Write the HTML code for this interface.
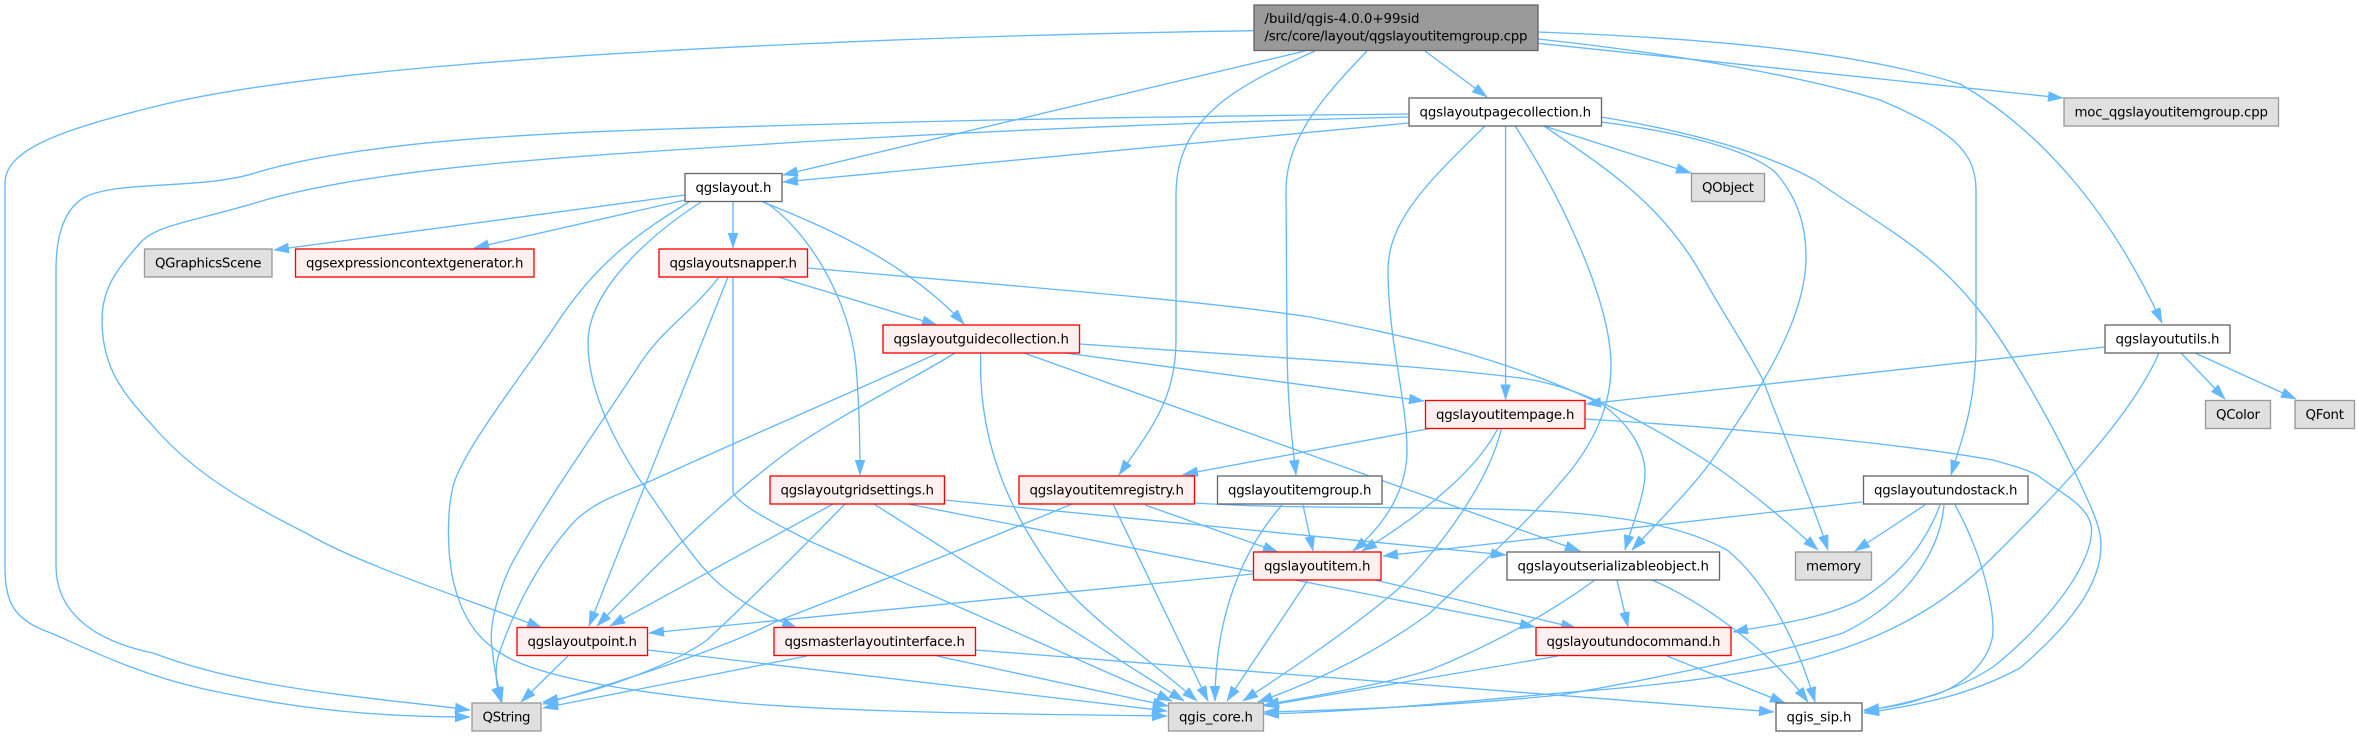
<!DOCTYPE html>
<html><head><meta charset="utf-8"><style>
html,body{margin:0;padding:0;background:#fff}
svg{display:block}
text{font-family:"DejaVu Sans",sans-serif;font-size:13.33px;fill:#000;text-anchor:middle}
.e path{fill:none;stroke:#63b8ff;stroke-width:1.33;marker-end:url(#a)}
.n{fill:#fff;stroke:#666;stroke-width:1.33}
.r{fill:#fff0f0;stroke:#f00;stroke-width:1.33}
.g{fill:#e0e0e0;stroke:#999;stroke-width:1.33}
.t{fill:#999;stroke:#666;stroke-width:1.33}
</style></head><body>
<svg width="2359" height="736" viewBox="0 0 2359 736" xmlns="http://www.w3.org/2000/svg">
<defs><marker id="a" markerUnits="userSpaceOnUse" markerWidth="17" markerHeight="12" refX="15" refY="5" orient="auto"><path d="M0,0L15,5L0,10Z" fill="#63b8ff" stroke="#63b8ff" stroke-width=".5"/></marker></defs>
<g class="e">
<path d="M1254 30.7C1100 33 950 37 800 44C600 53 300 70 153 107C60 130 5 150 5 183L5 566C5 600 12 620 51 633C90 650 140 675 204 689C300 710 380 717 470 717"/>
<path d="M1305 51L783 175"/>
<path d="M1315 51C1240 85 1176 115 1176 195L1176 340C1176 400 1150 430 1119 475"/>
<path d="M1367 51C1320 100 1286 140 1286 190L1287 340C1287 400 1292 440 1296 475"/>
<path d="M1425 51L1487 97"/>
<path d="M1538 39C1640 50 1780 70 1880 100C1950 130 1976 150 1976 190L1976 340C1976 400 1965 430 1951 475"/>
<path d="M1538 43.3L2063 98"/>
<path d="M1538 32C1700 38 1850 50 1960 84C2040 130 2110 210 2162 323"/>
<path d="M1409 114C1200 116 1000 119 800 125C600 131 380 135 255 173C200 190 120 180 85 197C62 210 56 240 56 270L56 566C56 610 90 640 153 653C250 690 370 697 470 710"/>
<path d="M1409 117C1200 122 1000 130 800 142C600 155 380 165 255 203C190 222 160 225 143 240C115 270 102 290 102 320C102 370 125 395 153 426C195 475 250 505 306 533C360 565 470 600 542 628"/>
<path d="M1409 123L783 182"/>
<path d="M1485 126C1430 180 1388 220 1388 270C1388 340 1407 400 1407 450C1407 490 1385 525 1353 551"/>
<path d="M1505.6 126L1505.6 399.5"/>
<path d="M1515 126C1560 195 1611 300 1611 366C1611 410 1590 450 1560 483C1530 520 1480 565 1430 613C1380 650 1320 680 1258 702"/>
<path d="M1544 126L1691 173"/>
<path d="M1544 126C1600 165 1660 200 1703 277C1730 325 1745 345 1763 380C1785 440 1810 495 1828 550"/>
<path d="M1601 117C1680 130 1760 150 1815 180C1880 225 1930 250 1973 303C2010 345 2060 440 2080 483C2095 515 2101 530 2101 545C2101 585 2070 625 2020 668C1970 695 1920 705 1864 713"/>
<path d="M1601 122C1680 132 1750 150 1775 172C1800 200 1806 230 1806 257C1806 320 1760 390 1710 463C1690 490 1660 520 1632 550"/>
<path d="M685 195L274 250"/>
<path d="M685 200L474 248"/>
<path d="M689 202C640 232 600 260 561 317C530 365 470 440 455 480C448 500 446 540 452 575C462 625 485 645 507 657C540 675 610 690 740 703C850 712 1000 714 1167 716"/>
<path d="M701 202C650 235 588 290 588 343C588 395 620 450 640 480C665 515 695 565 723 587C745 605 770 618 797 628"/>
<path d="M733 202L733 248"/>
<path d="M763 202C820 225 905 260 964 324"/>
<path d="M765 202C808 230 850 300 856 366C859 400 860 440 860 475"/>
<path d="M719 277C690 315 660 330 636 370C590 440 540 510 510 567C495 600 489 630 492 647C494 670 498 685 502 702"/>
<path d="M728 277L589 626"/>
<path d="M733 277L733 493C745 510 780 525 807 540L1172 701"/>
<path d="M778 277L937 325"/>
<path d="M808 268C1000 285 1200 300 1310 317C1400 335 1500 355 1603 405C1630 425 1645 450 1645 473C1645 495 1632 525 1625 550"/>
<path d="M938 353C880 380 740 440 653 480C610 497 590 505 573 523C535 565 510 620 498 657C494 675 497 690 501 702"/>
<path d="M955 353C920 375 850 410 800 443C740 485 660 560 597 626"/>
<path d="M980.6 353L980.6 370C982 460 1020 530 1067 590C1105 630 1150 660 1197 701"/>
<path d="M1024 353L1580 551"/>
<path d="M1065 353L1424 401"/>
<path d="M1080 344C1250 356 1420 365 1520 378C1580 385 1650 425 1710 463C1750 490 1790 525 1818 550"/>
<path d="M833 504L610 626"/>
<path d="M845 504C800 550 750 600 707 640C680 660 610 690 543 702"/>
<path d="M874 504L1184 701"/>
<path d="M908 504L1535 627"/>
<path d="M944 500L1506 555"/>
<path d="M1072 504C950 555 800 612 773 623C720 650 610 685 543 704"/>
<path d="M1113 504L1208 701"/>
<path d="M1145 505L1278 552"/>
<path d="M1195 503C1300 510 1450 505 1560 512C1640 518 1690 530 1727 550C1770 585 1800 650 1815 702"/>
<path d="M1282 505C1240 553 1215 620 1215 701"/>
<path d="M1303 505L1313 551"/>
<path d="M1432.6 428L1183 474.5"/>
<path d="M1498 428C1480 465 1430 510 1362 551"/>
<path d="M1501.5 428C1490 480 1440 550 1397 590C1350 630 1290 670 1243 701"/>
<path d="M1585 419C1700 426 1880 440 1993 460C2010 465 2030 470 2040 477C2055 490 2091 505 2091.600 530C2091 570 2040 630 1993 667C1950 695 1900 705 1864 711"/>
<path d="M1862 502L1383 556"/>
<path d="M1925 505L1855 551"/>
<path d="M1940 505C1925 545 1900 575 1860 600C1820 620 1770 625 1733 632"/>
<path d="M1944 505C1940 550 1910 600 1843 633C1790 650 1650 680 1560 695C1450 706 1350 710 1264 712"/>
<path d="M1955 505C1980 550 1993 600 1993 630C1993 660 1960 690 1927 697C1905 705 1885 708 1864 710"/>
<path d="M2105 347L1586 404"/>
<path d="M2181 353L2225 399"/>
<path d="M2195 353L2296 399"/>
<path d="M2159 353C2130 420 2050 500 1993 557C1950 600 1890 640 1793 663C1700 683 1600 690 1560 693C1450 703 1350 712 1264 714"/>
<path d="M1253 574L649 633"/>
<path d="M1308 580L1227 701"/>
<path d="M1375 580L1576 628"/>
<path d="M1595 580C1540 620 1480 650 1430 670C1380 685 1320 695 1264 705"/>
<path d="M1617 580L1628 627"/>
<path d="M1652 580C1700 600 1770 650 1808 702"/>
<path d="M568 656L521 702"/>
<path d="M648 650L1167 711"/>
<path d="M807 656L543 708"/>
<path d="M937 656L1168 706"/>
<path d="M975.500 650L1774 712"/>
<path d="M1558 656L1264 706"/>
<path d="M1667 656L1785 703"/>
</g>
<rect class="t" x="1254" y="5" width="284" height="45.5"/>
<text x="1264.500" y="23" textLength="155" style="text-anchor:start">/build/qgis-4.0.0+99sid</text>
<text x="1264.500" y="40.500" textLength="263" style="text-anchor:start">/src/core/layout/qgslayoutitemgroup.cpp</text>
<rect class="n" x="1409" y="98" width="192.500" height="28"/><text x="1505.300" y="116.500" textLength="171.500">qgslayoutpagecollection.h</text>
<rect class="g" x="2064" y="98" width="214.500" height="28"/><text x="2171.200" y="116.500" textLength="193.500">moc_qgslayoutitemgroup.cpp</text>
<rect class="n" x="685" y="173.500" width="97" height="28"/><text x="733.500" y="192" textLength="76">qgslayout.h</text>
<rect class="g" x="1691.500" y="173.500" width="73" height="28"/><text x="1728" y="192" textLength="52">QObject</text>
<rect class="g" x="144.500" y="249" width="127.500" height="28"/><text x="208.200" y="267.500" textLength="106.500">QGraphicsScene</text>
<rect class="r" x="295.500" y="249" width="238.500" height="28"/><text x="414.700" y="267.500" textLength="217.500">qgsexpressioncontextgenerator.h</text>
<rect class="r" x="659" y="249" width="148.500" height="28"/><text x="733.200" y="267.500" textLength="127.500">qgslayoutsnapper.h</text>
<rect class="r" x="883" y="325" width="196.500" height="28"/><text x="981.200" y="343.500" textLength="175.500">qgslayoutguidecollection.h</text>
<rect class="n" x="2105" y="325" width="125" height="28"/><text x="2167.500" y="343.500" textLength="104">qgslayoututils.h</text>
<rect class="r" x="1425.500" y="400.500" width="159.500" height="28"/><text x="1505.200" y="419" textLength="138.500">qgslayoutitempage.h</text>
<rect class="g" x="2205.500" y="400.500" width="65" height="28"/><text x="2238" y="419" textLength="44">QColor</text>
<rect class="g" x="2295" y="400.500" width="59.500" height="28"/><text x="2324.700" y="419" textLength="38.500">QFont</text>
<rect class="r" x="770" y="476" width="174.500" height="28"/><text x="857.200" y="494.500" textLength="153.500">qgslayoutgridsettings.h</text>
<rect class="r" x="1019" y="476" width="175.500" height="28"/><text x="1106.700" y="494.500" textLength="154.500">qgslayoutitemregistry.h</text>
<rect class="n" x="1217.500" y="476" width="164.500" height="28"/><text x="1299.700" y="494.500" textLength="143.500">qgslayoutitemgroup.h</text>
<rect class="n" x="1863.500" y="476" width="164.500" height="28"/><text x="1945.700" y="494.500" textLength="143.500">qgslayoutundostack.h</text>
<rect class="r" x="1253.500" y="552" width="127.500" height="28"/><text x="1317.200" y="570.500" textLength="106.500">qgslayoutitem.h</text>
<rect class="n" x="1507" y="552" width="212.500" height="28"/><text x="1613.200" y="570.500" textLength="191.500">qgslayoutserializableobject.h</text>
<rect class="g" x="1795.500" y="552" width="76" height="28"/><text x="1833.500" y="570.500" textLength="55">memory</text>
<rect class="r" x="517" y="627.500" width="130.500" height="28"/><text x="582.200" y="646" textLength="109.500">qgslayoutpoint.h</text>
<rect class="r" x="774" y="627.500" width="201.500" height="28"/><text x="874.700" y="646" textLength="180.500">qgsmasterlayoutinterface.h</text>
<rect class="r" x="1536" y="627.500" width="195" height="28"/><text x="1633.500" y="646" textLength="174">qgslayoutundocommand.h</text>
<rect class="g" x="472" y="703" width="69" height="28"/><text x="506.500" y="721.500" textLength="48">QString</text>
<rect class="g" x="1168.500" y="703" width="95" height="28"/><text x="1216" y="721.500" textLength="74">qgis_core.h</text>
<rect class="n" x="1776" y="703" width="86" height="28"/><text x="1819" y="721.500" textLength="65">qgis_sip.h</text>
</svg>
</body></html>
